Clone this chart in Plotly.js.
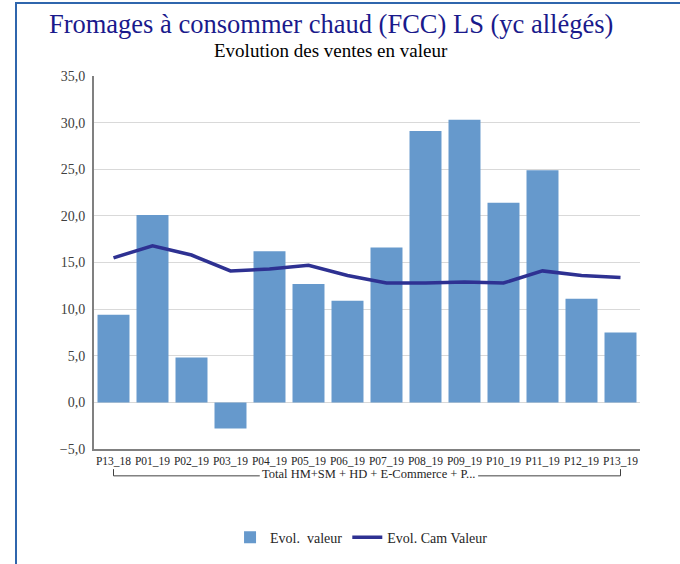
<!DOCTYPE html>
<html>
<head>
<meta charset="utf-8">
<script src="https://cdn.plot.ly/plotly-3.0.1.min.js"></script>
<style>
  html, body { margin:0; padding:0; background:#ffffff; }
  #wrap { position:relative; width:680px; height:564px; overflow:hidden; }
  #frame { position:absolute; left:15px; top:2px; width:700px; height:600px;
           border-left:2px solid #2f66ad; border-top:2px solid #2f66ad; pointer-events:none; }
  #chart { position:absolute; left:0; top:0; width:680px; height:564px; }
</style>
</head>
<body>
<div id="wrap">
  <div id="chart"></div>
  <div id="frame"></div>
</div>
<script>
// ---- data ----
const categories = ["P13_18","P01_19","P02_19","P03_19","P04_19","P05_19","P06_19",
                    "P07_19","P08_19","P09_19","P10_19","P11_19","P12_19","P13_19"];
const evolValeur = [9.4, 20.1, 4.8, -2.8, 16.2, 12.7, 10.9, 16.6, 29.1, 30.3, 21.4, 24.9, 11.1, 7.5];
const evolCamValeur = [15.5, 16.8, 15.8, 14.1, 14.3, 14.7, 13.6, 12.8, 12.8, 12.9, 12.8, 14.1, 13.6, 13.4];
const groupLabel = "Total HM+SM + HD + E-Commerce + P...";
const seriesNames = ["Evol.  valeur", "Evol. Cam Valeur"];
const mainTitle = "Fromages à consommer chaud (FCC) LS (yc allégés)";
const subTitle = "Evolution des ventes en valeur";
const yTicks = [-5, 0, 5, 10, 15, 20, 25, 30, 35];

const serif = "'Liberation Serif', 'Times New Roman', serif";

const traces = [
  {
    type: "bar", x: categories, y: evolValeur, name: seriesNames[0],
    marker: { color: "#6699cc" }, hoverinfo: "skip"
  },
  {
    type: "scatter", mode: "lines", x: categories, y: evolCamValeur, name: seriesNames[1],
    line: { color: "#2e3192", width: 3.5 }, hoverinfo: "skip"
  }
];

const n = categories.length;
const bracketY0 = -0.054, bracketY1 = -0.072;
const shapes = [
  { type:"line", xref:"x", yref:"paper", x0: categories[0], x1: categories[0], y0: bracketY0, y1: bracketY1, line:{color:"#404040", width:1} },
  { type:"line", xref:"x", yref:"paper", x0: 0, x1: 3.75, y0: bracketY1, y1: bracketY1, line:{color:"#404040", width:1} },
  { type:"line", xref:"x", yref:"paper", x0: 9.35, x1: n-1, y0: bracketY1, y1: bracketY1, line:{color:"#404040", width:1} },
  { type:"line", xref:"x", yref:"paper", x0: categories[n-1], x1: categories[n-1], y0: bracketY0, y1: bracketY1, line:{color:"#404040", width:1} }
];

const layout = {
  width: 680, height: 564,
  paper_bgcolor: "rgba(0,0,0,0)", plot_bgcolor: "rgba(0,0,0,0)",
  margin: { l: 94, r: 40, t: 76, b: 115, autoexpand: false },
  separators: ", ",
  bargap: 0.18,
  showlegend: true,
  title: {
    text: mainTitle, xref: "container", x: 0.487, xanchor: "center",
    yref: "container", y: 0.958, yanchor: "middle",
    font: { family: serif, size: 26.5, color: "#1a1a8c" }
  },
  xaxis: {
    type: "category", tickangle: 0, showline: true, linecolor: "#808080", linewidth: 2,
    showgrid: false, ticks: "", tickfont: { family: serif, size: 11.5, color: "#262626" },
    range: [-0.5, n - 0.5], automargin: false
  },
  yaxis: {
    range: [-5, 35], tickvals: yTicks, tickformat: ".1f",
    showline: true, linecolor: "#808080", linewidth: 2,
    showgrid: true, gridcolor: "#d9d9d9", gridwidth: 1,
    zeroline: false, ticks: "", ticklabelstandoff: 4, automargin: false,
    tickfont: { family: serif, size: 14, color: "#404040" }
  },
  legend: {
    orientation: "h", x: 0.49, xanchor: "center", y: -0.238, yanchor: "middle",
    font: { family: serif, size: 14, color: "#262626" },
    traceorder: "normal", itemclick: false
  },
  shapes: shapes,
  annotations: [
    { text: subTitle, xref: "paper", yref: "paper", x: 0.434, y: 1.068, xanchor: "center", yanchor: "middle",
      showarrow: false, font: { family: serif, size: 19, color: "#000000" } },
    { text: groupLabel, xref: "x", yref: "paper", x: 6.55, y: -0.066, xanchor: "center", yanchor: "middle",
      showarrow: false, font: { family: serif, size: 12.5, color: "#262626" } }
  ]
};

Plotly.newPlot("chart", traces, layout, { displayModeBar: false, staticPlot: true });
</script>
</body>
</html>
